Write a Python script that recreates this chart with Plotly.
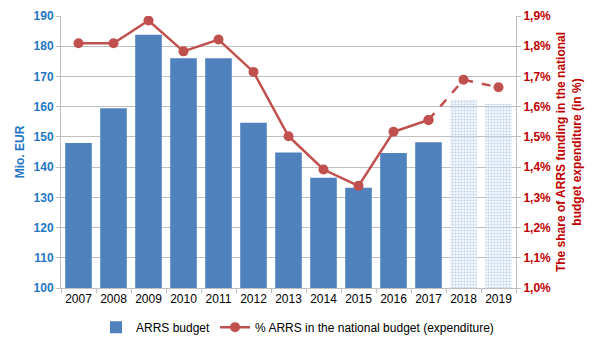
import plotly.graph_objects as go

years = ["2007","2008","2009","2010","2011","2012","2013","2014","2015","2016","2017","2018","2019"]
budget = [148.0, 159.5, 183.8, 176.0, 176.0, 154.7, 144.8, 136.5, 133.2, 144.7, 148.2, 162.3, 161.0]
share = [1.81, 1.81, 1.885, 1.783, 1.822, 1.715, 1.502, 1.392, 1.338, 1.517, 1.556, 1.689, 1.664]
n_actual = 11  # 2007-2017 actual; 2018-2019 planned
right_ticks = [1.0, 1.1, 1.2, 1.3, 1.4, 1.5, 1.6, 1.7, 1.8, 1.9]
right_labels = ["1,0%","1,1%","1,2%","1,3%","1,4%","1,5%","1,6%","1,7%","1,8%","1,9%"]

blue = "#4F81BD"
red = "#C0504D"
font = "Liberation Sans, Arial, sans-serif"

colors = [blue]*n_actual + ["#C9D9EE"]*(len(years)-n_actual)
shapes = [""]*n_actual + ["."]*(len(years)-n_actual)

fig = go.Figure()
fig.add_trace(go.Bar(
    x=years, y=budget, name="ARRS budget", width=0.76,
    marker=dict(color=colors, line=dict(width=0),
                pattern=dict(shape=shapes, fgcolor="#9CB8E0", bgcolor="#CFDDF0",
                             fillmode="replace", size=3, solidity=0.5)),
))
fig.add_trace(go.Scatter(
    x=years[:n_actual], y=share[:n_actual], yaxis="y2", mode="lines+markers",
    name="% ARRS in the national budget (expenditure)",
    line=dict(color=red, width=2.5), marker=dict(size=10, color=red),
))
fig.add_trace(go.Scatter(
    x=years[n_actual-1:], y=share[n_actual-1:], yaxis="y2", mode="lines+markers",
    showlegend=False,
    line=dict(color=red, width=2.5, dash="dash"), marker=dict(size=10, color=red),
))

fig.update_layout(
    width=595, height=351,
    margin=dict(l=61, r=79, t=16, b=63, autoexpand=False),
    paper_bgcolor="white", plot_bgcolor="white",
    font=dict(family=font, size=12, color="black"),
    showlegend=True,
    legend=dict(orientation="h", x=0.5, xanchor="center", xref="container",
                y=0.068, yanchor="middle", yref="container",
                font=dict(size=12), traceorder="normal"),
    xaxis=dict(type="category", range=[-0.5, 12.5], showgrid=False, showline=True, linecolor="#BFBFBF",
               ticks="outside", tickson="boundaries", tickcolor="#BFBFBF", ticklen=4,
               tickangle=0, automargin=False,
               tickfont=dict(size=12, color="black")),
    yaxis=dict(range=[100, 190], dtick=10, showgrid=True, gridcolor="#BFBFBF",
               showline=True, linecolor="#BFBFBF", ticks="outside", tickcolor="#BFBFBF", ticklen=4,
               automargin=False,
               tickfont=dict(size=12, color="#1F77C4", family=font, weight="bold"),
               title=dict(text="<b>Mio. EUR</b>", font=dict(size=12, color="#1F77C4"), standoff=6),
               zeroline=False),
    yaxis2=dict(range=[1.0, 1.9], overlaying="y", side="right", showgrid=False,
                tickvals=right_ticks, ticktext=right_labels, automargin=False,
                showline=True, linecolor="#BFBFBF", ticks="outside", tickcolor="#BFBFBF", ticklen=4,
                tickfont=dict(size=12, color="#C00000", weight="bold"),
                title=dict(text="<b>The share of ARRS funding in the national<br>budget expenditure (in %)</b>",
                           font=dict(size=12, color="#C00000"), standoff=6),
                zeroline=False),
)

fig.write_html("out.html")
